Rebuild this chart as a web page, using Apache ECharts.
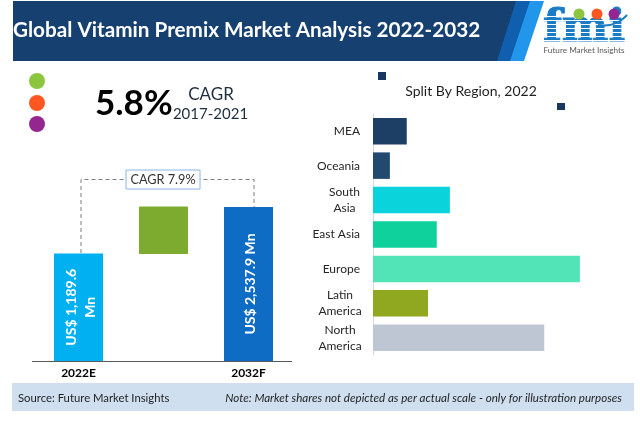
<!DOCTYPE html>
<html>
<head>
<meta charset="utf-8">
<style>
  html, body { margin: 0; padding: 0; background: #fff; }
  #chart { width: 640px; height: 439px; }
</style>
<script src="https://cdn.jsdelivr.net/npm/echarts@6/dist/echarts.min.js"></script>
</head>
<body>
<div id="chart"></div>
<script>
const titleText = 'Global Vitamin Premix Market Analysis 2022-2032';

// market size bars
const marketYears = ['2022E', '', '2032F'];
const marketStart = 1189.6;
const marketEnd = 2537.9;

// region split, shares
const regions = ['MEA', 'Oceania', 'South Asia', 'East Asia', 'Europe', 'Latin America', 'North America'];
const regionShares = [5.4, 2.7, 12.3, 10.2, 33.1, 8.8, 27.4];
const regionColors = ['#1d3f66', '#22496f', '#0bd3dc', '#0fd19b', '#52e3b7', '#90a81f', '#bfc6d3'];
const regionLabels = {
  'South Asia': '{s|South}\n{s|Asia}',
  'Latin America': '{a|Latin}\n{a|America}',
  'North America': '{a|North}\n{a|America}',
};

const font = 'Lato';
const chart = echarts.init(document.getElementById('chart'));

// fmi logo: stripes cut across the letters
const logoStripes = [];
[16, 20, 24, 28, 32, 36, 40].forEach(y => {
  logoStripes.push({
    type: 'rect', z: 12,
    shape: { x: 542, y: y, width: 86, height: 1 },
    style: { fill: '#fff' },
  });
});

chart.setOption({
  animation: false,
  backgroundColor: '#fff',
  grid: [
    { left: 36, top: 207, width: 255, height: 154 },
    { left: 373, top: 114, width: 250, height: 241 },
  ],
  xAxis: [
    {
      type: 'category',
      gridIndex: 0,
      data: marketYears,
      axisTick: { show: false },
      axisLine: { show: false },
      axisLabel: { color: '#000', fontFamily: font, fontWeight: 'bold', fontSize: 12, margin: 6 },
    },
    { type: 'value', gridIndex: 1, min: 0, max: 40, show: false },
  ],
  yAxis: [
    // the source is not to scale, log axis gets the drawn heights from the real values
    { type: 'log', gridIndex: 0, min: 206.5, max: marketEnd, show: false },
    {
      type: 'category',
      gridIndex: 1,
      inverse: true,
      data: regions,
      axisLine: { lineStyle: { color: '#d9d9d9' } },
      axisTick: { length: 5, lineStyle: { color: '#d9d9d9' } },
      axisLabel: {
        color: '#262626',
        fontFamily: font,
        fontSize: 12,
        margin: 13,
        lineHeight: 16,
        formatter: v => regionLabels[v] || v,
        rich: {
          a: { width: 40, align: 'center', fontFamily: font, fontSize: 12, lineHeight: 16, color: '#262626' },
          s: { width: 31, align: 'center', fontFamily: font, fontSize: 12, lineHeight: 16, color: '#262626' },
        },
      },
    },
  ],
  series: [
    {
      type: 'bar',
      xAxisIndex: 0,
      yAxisIndex: 0,
      barWidth: 49,
      data: [
        {
          value: marketStart,
          itemStyle: { color: '#00b0f0' },
          label: { formatter: 'US$ 1,189.6\nMn' },
        },
        '-',
        {
          value: marketEnd,
          itemStyle: { color: '#0f6cc4' },
          label: { formatter: 'US$ 2,537.9 Mn' },
        },
      ],
      label: {
        show: true,
        position: 'inside',
        rotate: 90,
        offset: [0, 2],
        color: '#fff',
        fontFamily: font,
        fontWeight: 'bold',
        fontSize: 14,
        lineHeight: 19,
        align: 'center',
        verticalAlign: 'middle',
      },
    },
    {
      // green growth block between the two bars
      type: 'candlestick',
      xAxisIndex: 0,
      yAxisIndex: 0,
      barWidth: 49,
      data: [['-', '-', '-', '-'], [marketStart, marketEnd, marketStart, marketEnd], ['-', '-', '-', '-']],
      itemStyle: { color: '#7dab2f', color0: '#7dab2f', borderColor: '#7dab2f', borderColor0: '#7dab2f' },
    },
    {
      type: 'bar',
      xAxisIndex: 1,
      yAxisIndex: 1,
      barWidth: 26.5,
      data: regionShares.map((v, i) => ({ value: v, itemStyle: { color: regionColors[i] } })),
    },
  ],
  graphic: [
    // header banner
    { type: 'polygon', z: 1, shape: { points: [[516, 1], [544, 1], [524, 61], [497, 61]] }, style: { fill: '#2196ea' } },
    { type: 'polygon', z: 2, shape: { points: [[500, 1], [530, 1], [510, 61], [480, 61]] }, style: { fill: '#0f5fae' } },
    { type: 'polygon', z: 3, shape: { points: [[13, 1], [516, 1], [497, 61], [13, 61]] }, style: { fill: '#16406f' } },
    { type: 'text', z: 4, x: 13, y: 30, style: { text: titleText, fill: '#fff', font: 'bold 20.7px ' + font, verticalAlign: 'middle' } },

    // logo
    { type: 'text', z: 11, x: 584, y: 30, style: { text: 'fmi', fill: '#1a7cc4', stroke: '#1a7cc4', lineWidth: 1, font: 'bold 44px "DejaVu Serif"', align: 'center', verticalAlign: 'middle' } },
    ...logoStripes,
    { type: 'polyline', z: 13, shape: { points: [[598, 25], [610, 25], [620, 21], [627, 15]], smooth: 0.4 }, style: { stroke: '#1a7cc4', lineWidth: 2, fill: null } },
    { type: 'circle', z: 14, shape: { cx: 579, cy: 14, r: 5.5 }, style: { fill: '#8cc63f' } },
    { type: 'circle', z: 14, shape: { cx: 597, cy: 14, r: 5.5 }, style: { fill: '#ff5722' } },
    { type: 'circle', z: 14, shape: { cx: 614, cy: 14, r: 5.5 }, style: { fill: '#93278f' } },
    { type: 'text', z: 13, x: 584, y: 50, style: { text: 'Future Market Insights', fill: '#595959', font: '8.2px ' + font, align: 'center', verticalAlign: 'middle' } },

    // CAGR block
    { type: 'circle', shape: { cx: 37, cy: 81, r: 8 }, style: { fill: '#8cc63f' } },
    { type: 'circle', shape: { cx: 37, cy: 103, r: 8 }, style: { fill: '#ff5722' } },
    { type: 'circle', shape: { cx: 37, cy: 124, r: 8 }, style: { fill: '#93278f' } },
    { type: 'text', x: 95, y: 104, style: { text: '5.8%', fill: '#000', font: 'bold 35px ' + font, verticalAlign: 'middle' } },
    { type: 'text', x: 211, y: 95, style: { text: 'CAGR', fill: '#1f2d3d', font: '17px ' + font, align: 'center', verticalAlign: 'middle' } },
    { type: 'text', x: 210.5, y: 114, style: { text: '2017-2021', fill: '#1f2d3d', font: '15px ' + font, align: 'center', verticalAlign: 'middle' } },

    // bar baseline, runs a little past the bars' grid
    { type: 'line', shape: { x1: 32, y1: 361.5, x2: 292, y2: 361.5 }, style: { stroke: '#595959', lineWidth: 1 } },

    // connector over the bars
    { type: 'polyline', shape: { points: [[81, 253], [81, 179.5], [254, 179.5], [254, 207]] }, style: { stroke: '#7f7f7f', lineWidth: 1, lineDash: [4, 3], fill: null } },
    { type: 'rect', shape: { x: 126, y: 170, width: 74, height: 19 }, style: { fill: '#fff', stroke: '#8db4e2', lineWidth: 1 } },
    { type: 'text', x: 163, y: 180, style: { text: 'CAGR 7.9%', fill: '#333', font: '12.7px ' + font, align: 'center', verticalAlign: 'middle' } },

    // region title and its stray markers
    { type: 'text', x: 471, y: 91, style: { text: 'Split By Region, 2022', fill: '#1f1f1f', font: '14px ' + font, align: 'center', verticalAlign: 'middle' } },
    { type: 'rect', shape: { x: 378, y: 72, width: 8, height: 8 }, style: { fill: '#17375e' } },
    { type: 'rect', shape: { x: 557, y: 103, width: 8, height: 7 }, style: { fill: '#17375e' } },

    // footer
    { type: 'rect', shape: { x: 12, y: 383, width: 622, height: 28 }, style: { fill: '#cfdff0' } },
    { type: 'text', x: 18, y: 398, style: { text: 'Source: Future Market Insights', fill: '#1f1f1f', font: '11.3px ' + font, verticalAlign: 'middle' } },
    { type: 'text', x: 622, y: 398, style: { text: 'Note: Market shares not depicted as per actual scale - only for illustration purposes', fill: '#1f1f1f', font: 'italic 11.6px ' + font, align: 'right', verticalAlign: 'middle' } },
  ],
});
</script>
</body>
</html>
